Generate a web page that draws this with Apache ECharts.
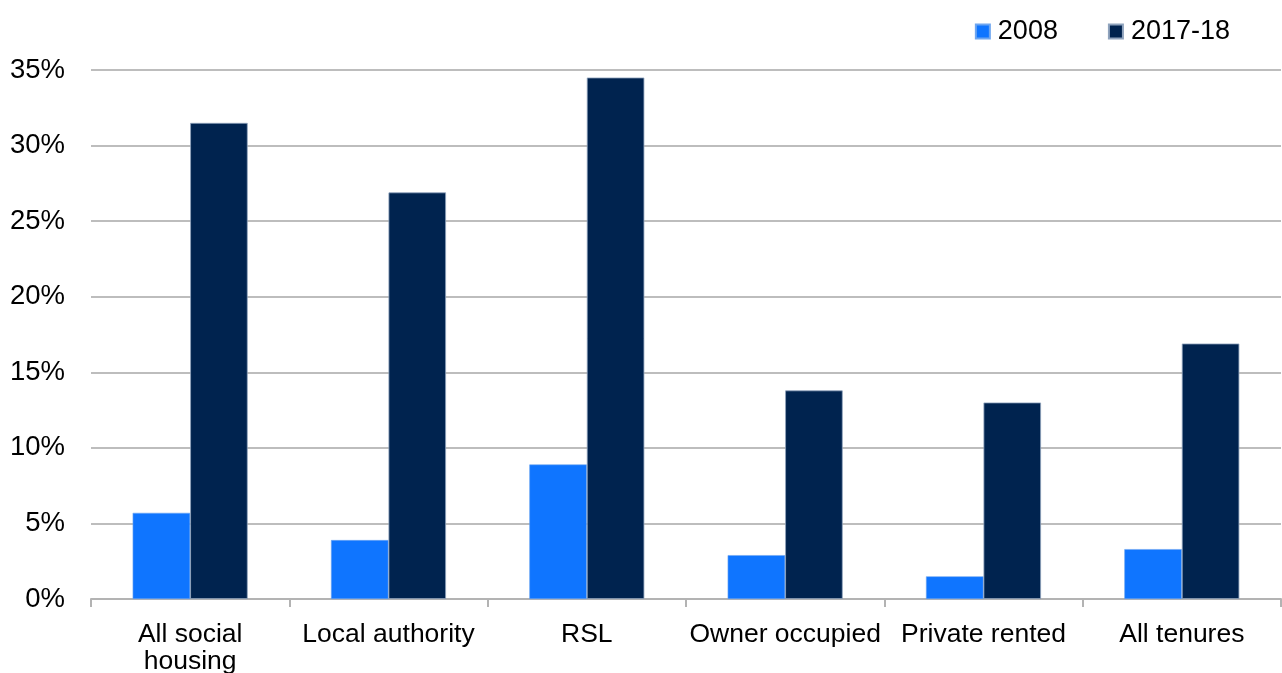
<!DOCTYPE html>
<html>
<head>
<meta charset="utf-8">
<script src="https://cdn.jsdelivr.net/npm/echarts@6/dist/echarts.min.js"></script>
<style>
html,body{margin:0;padding:0;background:#fff;}
#chart{width:1282px;height:673px;}
</style>
</head>
<body>
<div id="chart"></div>
<script>
const categories = ['All social\nhousing', 'Local authority', 'RSL', 'Owner occupied', 'Private rented', 'All tenures'];
const series2008 = [5.7, 3.9, 8.9, 2.9, 1.5, 3.3];
const series2017 = [31.5, 26.9, 34.5, 13.8, 13.0, 16.9];
const yTicks = [0, 5, 10, 15, 20, 25, 30, 35];

const chart = echarts.init(document.getElementById('chart'), null, {renderer: 'canvas'});
const font = 'Liberation Sans, Arial, sans-serif';
chart.setOption({
  animation: false,
  textStyle: {fontFamily: font},
  legend: {
    top: 13,
    right: 47,
    itemWidth: 14,
    itemHeight: 14,
    itemGap: 50,
    icon: 'rect',
    textStyle: {fontSize: 27, color: '#000', fontFamily: font, padding: [0, 0, 0, 3], lineHeight: 27},
    data: ['2008', '2017-18']
  },
  grid: {left: 91, right: 1, top: 70, bottom: 74, containLabel: false, outerBoundsMode: 'none'},
  xAxis: {
    type: 'category',
    data: categories,
    axisLine: {lineStyle: {color: '#b3b3b3', width: 2}},
    axisTick: {show: true, interval: 0, length: 8, lineStyle: {color: '#b3b3b3', width: 2}},
    axisLabel: {interval: 0, hideOverlap: false, fontSize: 26.5, color: '#000', margin: 22, lineHeight: 27, fontFamily: font}
  },
  yAxis: {
    type: 'value',
    min: 0,
    max: 35,
    interval: 5,
    axisLine: {show: false},
    axisTick: {show: false},
    splitLine: {lineStyle: {color: '#bdbdbd', width: 2}},
    axisLabel: {
      fontSize: 27.5, color: '#000', margin: 26, fontFamily: font,
      formatter: v => yTicks.includes(v) ? v + '%' : ''
    }
  },
  series: [
    {
      name: '2008', type: 'bar', data: series2008,
      barGap: '0%', barCategoryGap: '42%',
      itemStyle: {color: '#0F75FF', borderColor: '#6ea6f0', borderWidth: 0.6}
    },
    {
      name: '2017-18', type: 'bar', data: series2017,
      barGap: '0%', barCategoryGap: '42%',
      itemStyle: {color: '#00234F', borderColor: '#8fa3bd', borderWidth: 0.8}
    }
  ]
});
</script>
</body>
</html>
